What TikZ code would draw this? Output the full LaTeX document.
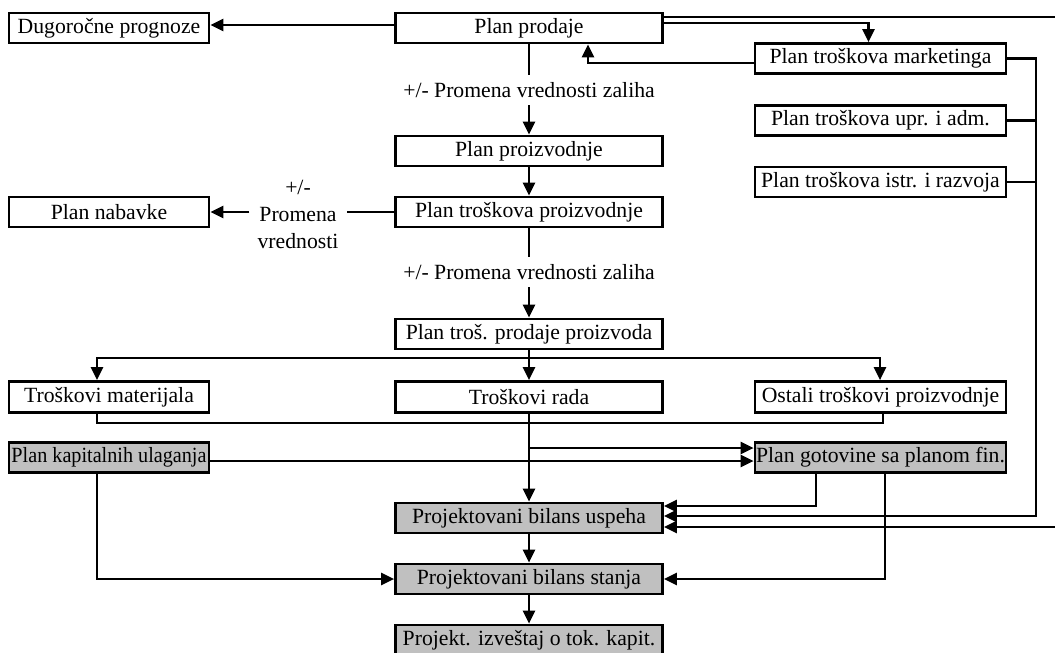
\documentclass[tikz,border=0pt]{standalone}
\usepackage{fontspec}
\usepackage{graphicx}
\setmainfont{Liberation Serif}
\usetikzlibrary{arrows.meta}
\definecolor{boxgray}{RGB}{192,192,192}
\begin{document}
\begin{tikzpicture}[x=1pt,y=-1pt,
  font=\fontsize{21.7}{27}\selectfont,
  box/.style={draw, line width=2.7pt, minimum height=30pt, inner sep=0pt, anchor=center},
  wbox/.style={box, minimum width=200pt},
  cbox/.style={box, minimum width=267pt},
  rbox/.style={box, minimum width=251pt},
  grayfill/.style={fill=boxgray},
  conn/.style={line width=2.4pt},
  arr/.style={conn, -{Triangle[length=13pt,width=12pt]}},
  lbl/.style={inner sep=0pt, minimum height=30pt}
]
\useasboundingbox (0,0) rectangle (1055,653);

% boxes
\node[wbox] (dug) at (109,28) {Dugoročne prognoze};
\node[cbox] (prodaja) at (529,28) {Plan prodaje};
\node[rbox] (mark) at (880.5,58.5) {Plan troškova marketinga};
\node[rbox] (upr) at (880.5,120.5) {Plan troškova upr. i adm.};
\node[rbox] (istr) at (880.5,182) {Plan troškova istr. i razvoja};
\node[cbox] (proizv) at (529,151) {Plan proizvodnje};
\node[cbox] (trpr) at (529,212) {Plan troškova proizvodnje};
\node[wbox] (nab) at (109,212) {Plan nabavke};
\node[cbox] (trprod) at (529,334) {Plan troš. prodaje proizvoda};
\node[wbox, minimum height=31pt] (tmat) at (109,397) {Troškovi materijala};
\node[cbox, minimum height=31pt] (trada) at (529,397) {Troškovi rada};
\node[rbox, minimum height=31pt] (ostali) at (880.5,397) {Ostali troškovi proizvodnje};
\node[wbox,grayfill] (kap) at (109,457.5) {\scalebox{0.93}[1]{Plan kapitalnih ulaganja}};
\node[rbox,grayfill] (got) at (880.5,457.5) {Plan gotovine sa planom fin.};
\node[cbox,grayfill] (usp) at (529,518) {Projektovani bilans uspeha};
\node[cbox,grayfill] (stanja) at (529,579) {Projektovani bilans stanja};
\node[cbox,grayfill] (izv) at (529,640) {Projekt. izveštaj o tok. kapit.};

% labels on connectors
\node[lbl] (z1) at (529,90) {+/- Promena vrednosti zaliha};
\node[lbl] (z2) at (529,272) {+/- Promena vrednosti zaliha};
\node[align=center, inner sep=0pt, minimum width=97pt] (z3) at (298,214) {+/-\\Promena\\vrednosti};

% junction points
\coordinate (offTop) at (1058,17);
\coordinate (offBot) at (1058,527);
\coordinate (busR) at (1036,516);
\coordinate (busTop) at (529,358);
\coordinate (busBot) at (529,423);
\coordinate (tap) at (529,448);

% connectors
\draw[arr] ([yshift=3pt]prodaja.west) -- ([yshift=3pt]dug.east);
\draw[arr] ([yshift=5pt]prodaja.east) -| ([xshift=-12pt]mark.north);
\draw[conn] ([yshift=11pt]prodaja.east) -- (offTop);
\draw[arr] ([yshift=-4.5pt]mark.west) -| ([xshift=59pt]prodaja.south);
\draw[arr] (mark.east) -| (busR) -- ([yshift=2pt]usp.east);
\draw[conn] (upr.east) -- (upr.east -| busR);
\draw[conn] (istr.east) -- (istr.east -| busR);
\draw[arr] ([xshift=-64.5pt]got.south) |- ([yshift=12pt]usp.east);
\draw[arr] (offBot) -- ([yshift=-9pt]usp.east);
\draw[arr] ([xshift=4.5pt]got.south) |- (stanja.east);
\draw[arr] ([xshift=-12pt]kap.south) |- (stanja.west);

\draw[conn] (prodaja.south) -- (z1.north);
\draw[arr] (z1.south) -- (proizv.north);
\draw[arr] (proizv.south) -- (trpr.north);
\draw[conn] (trpr.west) -- (z3.east |- trpr.west);
\draw[arr] (z3.west |- nab.east) -- (nab.east);
\draw[conn] (trpr.south) -- (z2.north);
\draw[arr] (z2.south) -- (trprod.north);

\draw[arr] (trprod.south) -- (trada.north);
\draw[arr] (busTop) -| ([xshift=-12pt]tmat.north);
\draw[arr] (busTop) -| ([xshift=-0.5pt]ostali.north);
\draw[conn] ([xshift=-12pt]tmat.south) |- (busBot) -| ([xshift=2.5pt]ostali.south);
\draw[arr] (trada.south) -- (usp.north);
\draw[arr] (tap) -- (tap -| got.west);
\draw[arr] ([yshift=-3.5pt]kap.east) -- ([yshift=-3.5pt]got.west);
\draw[arr] (usp.south) -- (stanja.north);
\draw[arr] (stanja.south) -- (izv.north);
\end{tikzpicture}
\end{document}
